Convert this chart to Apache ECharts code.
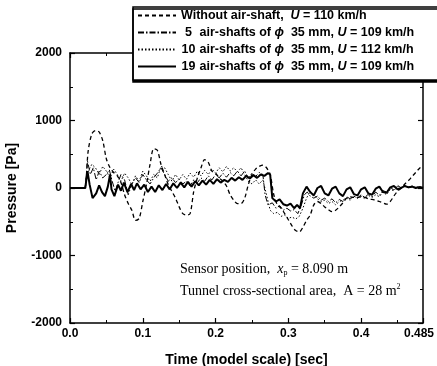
<!DOCTYPE html>
<html><head><meta charset="utf-8">
<script src="https://cdn.jsdelivr.net/npm/echarts@6/dist/echarts.min.js"></script>
<style>html,body{margin:0;padding:0;background:#fff}#c{width:437px;height:366px}</style>
</head><body><div id="c"></div>
<script>
// ---- data ----
var seriesNames = ['Without air-shaft', '5 air-shafts', '10 air-shafts', '19 air-shafts'];
var xTickValues = [0, 0.1, 0.2, 0.3, 0.4, 0.485];
var yTickValues = [-2000, -1000, 0, 1000, 2000];

// Without air-shaft, U = 110 km/h (dashed)
var tNone = [0,0.005,0.01,0.015,0.02,0.025,0.03,0.035,0.04,0.045,0.05,0.055,0.06,0.065,0.07,0.075,0.08,0.085,0.09,0.095,0.1,0.105,0.11,0.115,0.12,0.125,0.13,0.135,0.14,0.145,0.15,0.155,0.16,0.165,0.17,0.175,0.18,0.185,0.19,0.195,0.2,0.205,0.21,0.215,0.22,0.225,0.23,0.235,0.24,0.245,0.25,0.255,0.26,0.265,0.27,0.275,0.28,0.285,0.29,0.295,0.3,0.305,0.31,0.315,0.32,0.325,0.33,0.335,0.34,0.345,0.35,0.355,0.36,0.365,0.37,0.375,0.38,0.385,0.39,0.395,0.4,0.405,0.41,0.415,0.42,0.425,0.43,0.435,0.44,0.445,0.45,0.455,0.46,0.465,0.47,0.475,0.48,0.485];
var pNone = [0,0,0,0,0,550,800,850,830,700,430,300,230,180,80,-100,-230,-330,-480,-450,-200,50,350,580,560,350,200,50,-50,-150,-280,-380,-400,-380,-50,150,300,420,380,250,220,150,100,30,-100,-180,-230,-230,-150,50,200,280,320,340,300,200,-100,-250,-300,-380,-470,-560,-630,-650,-580,-480,-400,-250,-200,-230,-280,-320,-350,-330,-280,-220,-150,-130,-140,-140,-130,-140,-160,-170,-180,-200,-220,-240,-200,-120,-50,0,60,110,170,230,290,330];

// 5 air-shafts of phi 35 mm, U = 109 km/h (dash-dot)
var t5 = [0,0.021,0.024,0.028,0.032,0.036,0.04,0.045,0.05,0.054,0.058,0.062,0.066,0.07,0.075,0.08,0.085,0.09,0.095,0.1,0.105,0.11,0.115,0.12,0.125,0.13,0.135,0.14,0.145,0.15,0.155,0.16,0.165,0.17,0.175,0.18,0.185,0.19,0.195,0.2,0.205,0.21,0.215,0.22,0.225,0.23,0.235,0.24,0.245,0.25,0.255,0.26,0.265,0.268,0.272,0.278,0.283,0.288,0.293,0.298,0.303,0.308,0.313,0.318,0.322,0.326,0.33,0.335,0.34,0.345,0.35,0.355,0.36,0.365,0.37,0.375,0.38,0.385,0.39,0.395,0.4,0.405,0.41,0.415,0.42,0.425,0.43,0.435,0.44,0.445,0.45,0.455,0.46,0.465,0.47,0.475,0.48,0.485];
var p5 = [0,0,400,200,300,120,250,150,200,270,100,-50,80,200,120,-100,60,150,80,200,120,60,150,220,300,200,100,150,80,130,60,100,30,120,80,150,100,180,120,200,150,220,160,230,180,250,180,250,150,220,170,230,200,-100,-250,-220,-300,-260,-330,-300,-340,-320,-380,-250,-100,-60,-120,-150,-120,-180,-150,-200,-160,-220,-170,-200,-130,-160,-120,-150,-100,-140,-90,-130,-60,-110,-40,-60,10,-30,40,0,30,10,30,10,20,10];

// 10 air-shafts of phi 35 mm, U = 112 km/h (dotted)
var t10 = [0,0.021,0.025,0.03,0.035,0.04,0.045,0.05,0.055,0.06,0.065,0.07,0.075,0.08,0.085,0.09,0.095,0.1,0.105,0.11,0.115,0.12,0.125,0.13,0.135,0.14,0.145,0.15,0.155,0.16,0.165,0.17,0.175,0.18,0.185,0.19,0.195,0.2,0.205,0.21,0.215,0.22,0.225,0.23,0.235,0.24,0.245,0.25,0.255,0.26,0.265,0.27,0.275,0.28,0.285,0.29,0.295,0.3,0.305,0.31,0.315,0.32,0.325,0.33,0.335,0.34,0.345,0.35,0.355,0.36,0.365,0.37,0.375,0.38,0.385,0.39,0.395,0.4,0.405,0.41,0.415,0.42,0.425,0.43,0.435,0.44,0.445,0.45,0.455,0.46,0.465,0.47,0.475,0.48,0.485];
var p10 = [0,0,250,350,300,200,320,250,150,280,200,100,220,150,50,180,100,250,180,100,200,150,320,300,200,100,200,120,200,130,220,160,250,180,260,200,280,220,300,240,320,250,300,240,300,200,100,60,120,60,120,-100,-330,-380,-360,-420,-400,-450,-430,-460,-420,-300,-150,-50,-100,-160,-200,-180,-230,-200,-250,-200,-180,-150,-180,-120,-150,-120,-160,-110,-140,-100,-130,-60,-100,-20,-40,20,10,30,0,20,10,20,0];

// 19 air-shafts of phi 35 mm, U = 109 km/h (solid)
var t19 = [0,0.021,0.024,0.027,0.031,0.036,0.04,0.044,0.048,0.052,0.055,0.057,0.061,0.066,0.07,0.074,0.079,0.084,0.088,0.092,0.097,0.102,0.107,0.112,0.117,0.122,0.127,0.132,0.137,0.142,0.147,0.152,0.157,0.162,0.167,0.172,0.177,0.182,0.187,0.192,0.197,0.202,0.207,0.212,0.217,0.222,0.227,0.232,0.237,0.242,0.247,0.252,0.257,0.262,0.267,0.272,0.275,0.278,0.283,0.288,0.293,0.298,0.303,0.308,0.312,0.316,0.32,0.325,0.33,0.335,0.34,0.345,0.35,0.355,0.36,0.365,0.37,0.375,0.38,0.385,0.39,0.395,0.4,0.405,0.41,0.415,0.42,0.425,0.43,0.435,0.44,0.445,0.45,0.455,0.46,0.465,0.47,0.475,0.48,0.485];
var p19 = [0,0,250,50,-150,-80,40,-60,-120,20,200,-20,-120,50,-40,80,-60,60,-30,70,-20,50,-60,20,-60,40,-30,60,-20,70,0,80,10,90,20,100,40,110,50,120,60,130,80,120,90,150,110,160,120,180,140,190,150,200,180,220,200,-150,-200,-170,-240,-260,-230,-300,-250,-300,-80,20,-60,-110,0,30,-80,-110,-10,20,-80,-120,-20,10,-90,-110,-20,10,-80,-100,-10,20,-60,-70,10,30,-20,0,30,10,20,0,10,0];

function pairs(t, p) { return t.map(function (v, i) { return [v, p[i]]; }); }

var chart = echarts.init(document.getElementById('c'), null, {renderer: 'canvas'});
var sans = 'Liberation Sans';
var serif = 'Liberation Serif';

var axisCommon = {
  axisLine: {show: true, onZero: false, lineStyle: {color: '#000', width: 1.5}},
  axisTick: {show: true, inside: true, length: 5, lineStyle: {color: '#000', width: 1.2}},
  minorTick: {show: true, splitNumber: 2, length: 3, lineStyle: {color: '#000', width: 1}},
  splitLine: {show: false}
};

var fs = 12.5;
var legendText = {
  'Without air-shaft': '{t|Without air-shaft,  }{i|U}{t| = 110 km/h}',
  '5 air-shafts': '{n|5}{t| air-shafts of }{i|ϕ}{t|  35 mm, }{i|U}{t| = 109 km/h}',
  '10 air-shafts': '{n|10}{t| air-shafts of }{i|ϕ}{t|  35 mm, }{i|U}{t| = 112 km/h}',
  '19 air-shafts': '{n|19}{t| air-shafts of }{i|ϕ}{t|  35 mm, }{i|U}{t| = 109 km/h}'
};

var option = {
  backgroundColor: '#fff',
  animation: false,
  grid: {left: 70, right: 14, top: 53, bottom: 43, containLabel: false, outerBoundsMode: 'none'},
  xAxis: [
    Object.assign({}, axisCommon, {
      type: 'value', position: 'bottom', min: 0, max: 0.485, interval: 0.1,
      axisLabel: {color: '#000', fontFamily: sans, fontWeight: 'bold', fontSize: 12, margin: 5,
        showMaxLabel: true,
        formatter: function (v) { return Math.abs(v - 0.485) < 1e-6 ? '{m|0.485}' : v.toFixed(1); },
        rich: {m: {fontFamily: sans, fontWeight: 'bold', fontSize: 12, color: '#000', padding: [0, 8, 4, 0]}}},
      name: 'Time (model scale) [sec]', nameLocation: 'middle', nameGap: 30,
      nameTextStyle: {color: '#000', fontFamily: sans, fontWeight: 'bold', fontSize: 14}
    }),
    Object.assign({}, axisCommon, {
      type: 'value', position: 'top', min: 0, max: 0.485, interval: 0.1,
      axisLabel: {show: false}
    })
  ],
  yAxis: [
    Object.assign({}, axisCommon, {
      type: 'value', position: 'left', min: -2000, max: 2000, interval: 1000,
      axisLabel: {color: '#000', fontFamily: sans, fontWeight: 'bold', fontSize: 12, margin: 8,
        formatter: function (v) { return String(v); }},
      name: 'Pressure [Pa]', nameLocation: 'middle', nameGap: 51, nameRotate: 90,
      nameTextStyle: {color: '#000', fontFamily: sans, fontWeight: 'bold', fontSize: 14}
    }),
    Object.assign({}, axisCommon, {
      type: 'value', position: 'right', min: -2000, max: 2000, interval: 1000,
      axisLabel: {show: false}
    })
  ],
  legend: {
    orient: 'vertical', left: 137, top: 9, padding: 0, itemGap: 4,
    itemWidth: 38, itemHeight: 13, z: 60,
    data: seriesNames,
    itemStyle: {opacity: 0},
    formatter: function (name) { return legendText[name]; },
    textStyle: {
      color: '#000', fontFamily: sans, fontWeight: 'bold', fontSize: fs,
      rich: {
        t: {fontFamily: sans, fontWeight: 'bold', fontSize: fs, color: '#000'},
        i: {fontFamily: sans, fontWeight: 'bold', fontStyle: 'italic', fontSize: fs, color: '#000'},
        n: {fontFamily: sans, fontWeight: 'bold', fontSize: fs, color: '#000', width: 15, align: 'right'}
      }
    }
  },
  graphic: [
    {type: 'rect', z: 50, shape: {x: 133, y: 7, width: 320, height: 73},
     style: {fill: '#fff', stroke: '#000', lineWidth: 1.5, shadowColor: '#000', shadowBlur: 0, shadowOffsetX: 0, shadowOffsetY: 2}},
    {type: 'text', z: 50, left: 180, top: 262,
     style: {text: 'Sensor position,  {i|x}{s|p} = 8.090 m', fill: '#000', font: '14px "Liberation Serif"',
       rich: {i: {fontStyle: 'italic', fontFamily: serif, fontSize: 14}, s: {fontFamily: serif, fontSize: 8, padding: [8, 0, 0, 0]}}}},
    {type: 'text', z: 50, left: 180, top: 283,
     style: {text: 'Tunnel cross-sectional area,  A = 28 m{s|2}', fill: '#000', font: '14px "Liberation Serif"',
       rich: {s: {fontFamily: serif, fontSize: 8, padding: [0, 0, 8, 0]}}}}
  ],
  series: [
    {name: seriesNames[0], type: 'line', symbol: 'none', smooth: 0.3, data: pairs(tNone, pNone),
     lineStyle: {color: '#000', width: 1.3, type: [4, 3]}, itemStyle: {color: '#000'}},
    {name: seriesNames[1], type: 'line', symbol: 'none', data: pairs(t5, p5),
     lineStyle: {color: '#000', width: 1, type: [6, 2, 1.5, 2]}, itemStyle: {color: '#000'}},
    {name: seriesNames[2], type: 'line', symbol: 'none', data: pairs(t10, p10),
     lineStyle: {color: '#000', width: 1, type: [1.5, 2]}, itemStyle: {color: '#000'}},
    {name: seriesNames[3], type: 'line', symbol: 'none', data: pairs(t19, p19),
     lineStyle: {color: '#000', width: 2}, itemStyle: {color: '#000'}}
  ]
};
chart.setOption(option);
</script>
</body></html>
